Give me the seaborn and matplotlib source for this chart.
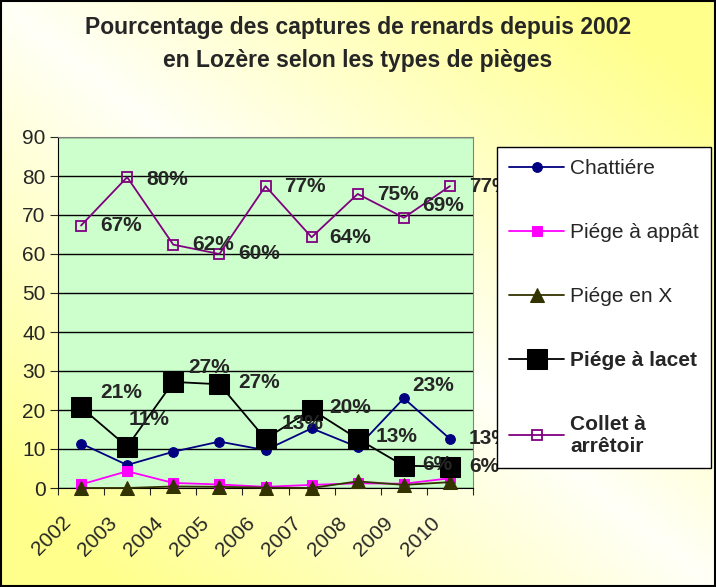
import numpy as np
import pandas as pd
import matplotlib
matplotlib.use("Agg")
import matplotlib.pyplot as plt
import matplotlib.transforms as mtrans
import seaborn as sb

years = ["2002", "2003", "2004", "2005", "2006", "2007", "2008", "2009", "2010"]
chattiere = [11.4, 5.9, 9.3, 11.9, 9.7, 15.3, 10.5, 23.0, 12.6]
appat = [0.9, 4.3, 1.3, 0.9, 0.3, 0.8, 1.2, 1.1, 2.5]
en_x = [0.0, 0.0, 0.4, 0.3, 0.1, 0.0, 1.7, 0.8, 1.5]
lacet = [20.7, 10.6, 27.2, 26.6, 12.6, 20.1, 12.6, 5.7, 5.5]
collet = [67.3, 79.7, 62.4, 60.0, 77.4, 64.3, 75.4, 69.3, 77.4]

names = ["Chattiére", "Piége à appât", "Piége en X", "Piége à lacet", "Collet à\narrêtoir"]
title = "Pourcentage des captures de renards depuis 2002\nen Lozère selon les types de pièges"

df = pd.DataFrame({"annee": years, names[0]: chattiere, names[1]: appat,
                   names[2]: en_x, names[3]: lacet, names[4]: collet})

sb.set_style("white")
plt.rcParams["font.family"] = ["Liberation Sans", "DejaVu Sans"]

fig = plt.figure(figsize=(7.16, 5.87), dpi=100)

# fond dégradé jaune / blanc
bg = fig.add_axes([0, 0, 1, 1], zorder=-10)
h, w = 587, 716
yy, xx = np.mgrid[0:h, 0:w]
u = np.abs(xx / w - yy / h)
t = np.clip(u * 1.2, 0, 1)[..., None]
white = np.array([1.0, 1.0, 0.97])
yellow = np.array([1.0, 1.0, 0.55])
img = white * (1 - t) + yellow * t
bg.imshow(img, aspect="auto", extent=[0, 1, 0, 1], origin="upper")
bg.set_axis_off()
fig.patches.append(plt.Rectangle((0.001, 0.001), 0.998, 0.997, transform=fig.transFigure,
                                 fill=False, edgecolor="black", linewidth=1.5))

ax = fig.add_axes([58 / 716, 1 - 488 / 587, (473 - 58) / 716, (488 - 137) / 587])
ax.set_facecolor("#CCFFCC")

styles = [
    dict(color="#000080", marker="o", markersize=7, mfc="#000080", mec="#000080"),
    dict(color="#FF00FF", marker="s", markersize=7, mfc="#FF00FF", mec="#FF00FF"),
    dict(color="#333300", marker="^", markersize=10, mfc="#333300", mec="#333300"),
    dict(color="black", marker="s", markersize=14, mfc="black", mec="black"),
    dict(color="#800080", marker="s", markersize=7, mfc="none", mec="#800080", mew=1.3),
]
for i, (name, st) in enumerate(zip(names, styles)):
    sb.lineplot(data=df, x="annee", y=name, ax=ax, label=name, linewidth=1.3,
                zorder=3 + i, clip_on=False, **st)

ax.set_xlim(-0.5, 8.5)
ax.set_ylim(0, 90)
ax.set_yticks(range(0, 91, 10))
ax.set_xlabel("")
ax.set_ylabel("")
ax.grid(axis="y", color="black", linewidth=1.0)
ax.set_axisbelow(True)
for s in ["top", "right"]:
    ax.spines[s].set_color("#808080")
for s in ["left", "bottom"]:
    ax.spines[s].set_color("black")
ax.tick_params(axis="y", labelsize=15, length=6, direction="out", left=True, pad=3)

# graduations entre les catégories, étiquettes au centre
ax.set_xticks(np.arange(-0.5, 9, 1))
ax.set_xticklabels([])
ax.tick_params(axis="x", length=5, direction="out", bottom=True)
ax.set_xticks(range(len(years)), minor=True)
ax.set_xticklabels(years, minor=True, rotation=45, ha="right", rotation_mode="anchor", fontsize=15)
ax.tick_params(axis="x", which="minor", length=0, pad=18)
shift = mtrans.ScaledTranslation(-20 / 100, 0, fig.dpi_scale_trans)
for lab in ax.get_xticklabels(minor=True):
    lab.set_transform(lab.get_transform() + shift)

# étiquettes de données (décalages en pixels)
collet_off = [(19, 0), (19, -2), (19, 0), (19, 0), (19, 0), (18, 0), (19, -1), (18, 12), (19, 0)]
lacet_off = [(19, 15), (1, 27), (15, 14), (19, 2), (16, 15), (18, 2), (18, 2), (18, 1), (19, 0)]
chat_idx = [7, 8]
chat_off = [(8, 13), (19, 0)]

def put(x, v, off):
    ax.annotate(f"{v:.0f}%", (x, v), xytext=(off[0] * 0.72, off[1] * 0.72),
                textcoords="offset points", ha="left", va="center",
                fontsize=15, fontweight="bold", zorder=10, annotation_clip=False)

for i, v in enumerate(collet):
    put(i, v, collet_off[i])
for i, v in enumerate(lacet):
    put(i, v, lacet_off[i])
for i, off in zip(chat_idx, chat_off):
    put(i, chattiere[i], off)

handles, labels = ax.get_legend_handles_labels()
ax.get_legend().remove()
leg = fig.legend(handles, labels, loc="upper left", bbox_to_anchor=(497 / 716, 1 - 147 / 587),
                 fontsize=15, frameon=True, fancybox=False, framealpha=1, edgecolor="black",
                 handlelength=2.6, handletextpad=0.3, labelspacing=2.15, borderpad=0.6,
                 borderaxespad=0)
leg.get_frame().set_linewidth(1.0)
for txt in leg.get_texts()[3:]:
    txt.set_fontweight("bold")

fig.text(0.5, 1 - 44 / 587, title, ha="center", va="center", fontsize=16.5,
         fontweight="bold", linespacing=1.55)

plt.savefig("out.png", dpi=100)
